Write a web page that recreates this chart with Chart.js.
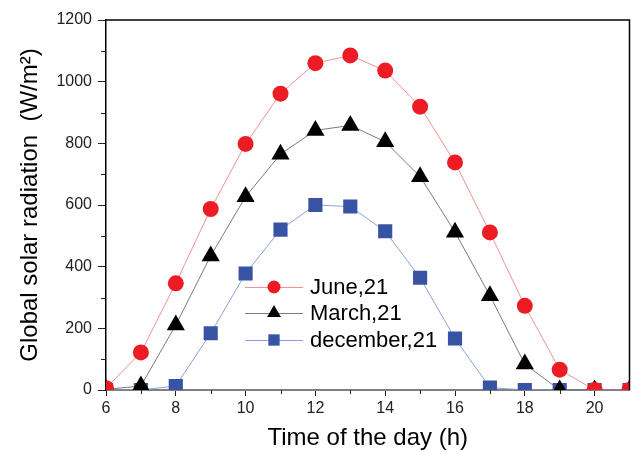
<!DOCTYPE html>
<html>
<head>
<meta charset="utf-8">
<script src="https://cdn.jsdelivr.net/npm/chart.js@4/dist/chart.umd.min.js"></script>
<style>
  html, body { margin: 0; padding: 0; background: #fff; }
</style>
</head>
<body>
<canvas id="grafico" width="640" height="452"></canvas>
<script>
// ---------- DADOS ----------
const horas = [6, 7, 8, 9, 10, 11, 12, 13, 14, 15, 16, 17, 18, 19, 20, 21];
const junho = [6, 122, 346, 587, 798, 961, 1060, 1085, 1036, 919, 738, 511, 273, 66, 0, 0];
const marco = [2, 13, 211, 435, 627, 765, 842, 858, 805, 692, 512, 306, 84, 0, 0, 0];
const dezembro = [0, 0, 13, 184, 378, 520, 600, 595, 515, 364, 167, 8, 0, 0, 0, 0];
const rotulos = ["June,21", "March,21", "december,21"];
const ticksY = [0, 200, 400, 600, 800, 1000, 1200];
const ticksX = [6, 8, 10, 12, 14, 16, 18, 20];

const FONTE = "'Liberation Sans', Arial, sans-serif";

function pontos(valores) {
    return horas.map((h, i) => ({ x: h, y: valores[i] }));
}

// ---------- PLUGIN: moldura, ticks menores e legenda ----------
const extras = {
    id: "extras",
    afterDraw(chart) {
        const { ctx, chartArea: a, scales } = chart;
        ctx.save();

        // ticks menores
        ctx.strokeStyle = "#222";
        ctx.lineWidth = 1;
        for (let v = 100; v < 1200; v += 200) {
            const y = Math.round(scales.y.getPixelForValue(v)) + 0.5;
            ctx.beginPath();
            ctx.moveTo(a.left - 5, y);
            ctx.lineTo(a.left, y);
            ctx.stroke();
        }
        for (let h = 7; h < 21; h += 2) {
            const x = Math.round(scales.x.getPixelForValue(h)) + 0.5;
            ctx.beginPath();
            ctx.moveTo(x, a.bottom);
            ctx.lineTo(x, a.bottom + 4);
            ctx.stroke();
        }

        // moldura (topo e direita)
        ctx.strokeStyle = "#000";
        ctx.lineWidth = 1.5;
        ctx.beginPath();
        ctx.moveTo(a.left, a.top);
        ctx.lineTo(a.right, a.top);
        ctx.lineTo(a.right, a.bottom);
        ctx.stroke();

        // legenda
        const lx = 245, lw = 58, ly = [287, 313, 340];
        const tamanhos = [6.5, 8, 8];
        chart.data.datasets.forEach((ds, i) => {
            const y = ly[i];
            ctx.strokeStyle = ds.borderColor;
            ctx.lineWidth = 1;
            ctx.beginPath();
            ctx.moveTo(lx, y + 0.5);
            ctx.lineTo(lx + lw, y + 0.5);
            ctx.stroke();
            ctx.fillStyle = ds.pointBackgroundColor;
            Chart.helpers.drawPoint(ctx, {
                pointStyle: ds.pointStyle, radius: tamanhos[i], rotation: 0, borderWidth: 0
            }, lx + lw / 2, y);
            ctx.fillStyle = "#000";
            ctx.font = "22px " + FONTE;
            ctx.textBaseline = "middle";
            ctx.textAlign = "left";
            ctx.fillText(ds.label, lx + lw + 7, y + 1);
        });
        ctx.restore();
    }
};

// ---------- GRÁFICO ----------
function renderizarGrafico() {
    const ctx = document.getElementById("grafico").getContext("2d");
    new Chart(ctx, {
        type: "line",
        data: {
            datasets: [
                {
                    label: rotulos[0],
                    data: pontos(junho),
                    borderColor: "rgba(240,120,120,0.8)",
                    borderWidth: 1,
                    pointStyle: "circle",
                    pointRadius: 8,
                    pointBackgroundColor: "#ED1C24",
                    pointBorderWidth: 0
                },
                {
                    label: rotulos[1],
                    data: pontos(marco),
                    borderColor: "rgba(90,90,90,0.8)",
                    borderWidth: 1,
                    pointStyle: "triangle",
                    pointRadius: 10.5,
                    pointBackgroundColor: "#000",
                    pointBorderWidth: 0
                },
                {
                    label: rotulos[2],
                    data: pontos(dezembro),
                    borderColor: "rgba(130,150,215,0.9)",
                    borderWidth: 1,
                    pointStyle: "rect",
                    pointRadius: 10,
                    pointBackgroundColor: "#3953A4",
                    pointBorderWidth: 0
                }
            ]
        },
        options: {
            responsive: false,
            animation: false,
            layout: { padding: { top: 20, right: 10, left: 0, bottom: 0 } },
            plugins: {
                legend: { display: false },
                tooltip: { enabled: false }
            },
            scales: {
                x: {
                    type: "linear",
                    min: 6,
                    max: 21,
                    afterFit(scale) { scale.height = 62; },
                    afterBuildTicks(scale) { scale.ticks = ticksX.map(v => ({ value: v })); },
                    ticks: {
                        font: { size: 16, family: FONTE },
                        color: "#222",
                        padding: 3,
                        callback: v => String(v)
                    },
                    grid: { display: true, drawOnChartArea: false, tickLength: 6, color: "#222" },
                    border: { display: true, color: "#808080", width: 2 },
                    title: {
                        display: true,
                        text: "Time of the day (h)",
                        font: { size: 24, family: FONTE, lineHeight: 1 },
                        color: "#000",
                        padding: { bottom: 2, top: 0 }
                    }
                },
                y: {
                    min: 0,
                    max: 1200,
                    afterFit(scale) { scale.width = 106; },
                    afterBuildTicks(scale) { scale.ticks = ticksY.map(v => ({ value: v })); },
                    ticks: {
                        font: { size: 16, family: FONTE },
                        color: "#222",
                        padding: 6,
                        callback: v => String(v)
                    },
                    grid: { display: true, drawOnChartArea: false, tickLength: 8, color: "#222" },
                    border: { display: true, color: "#000", width: 1.5 },
                    title: {
                        display: true,
                        text: "Global solar radiation  (W/m²)",
                        font: { size: 24, family: FONTE, lineHeight: 1 },
                        color: "#000",
                        padding: { top: 18, bottom: 0 }
                    }
                }
            }
        },
        plugins: [extras]
    });
}

renderizarGrafico();
</script>
</body>
</html>
